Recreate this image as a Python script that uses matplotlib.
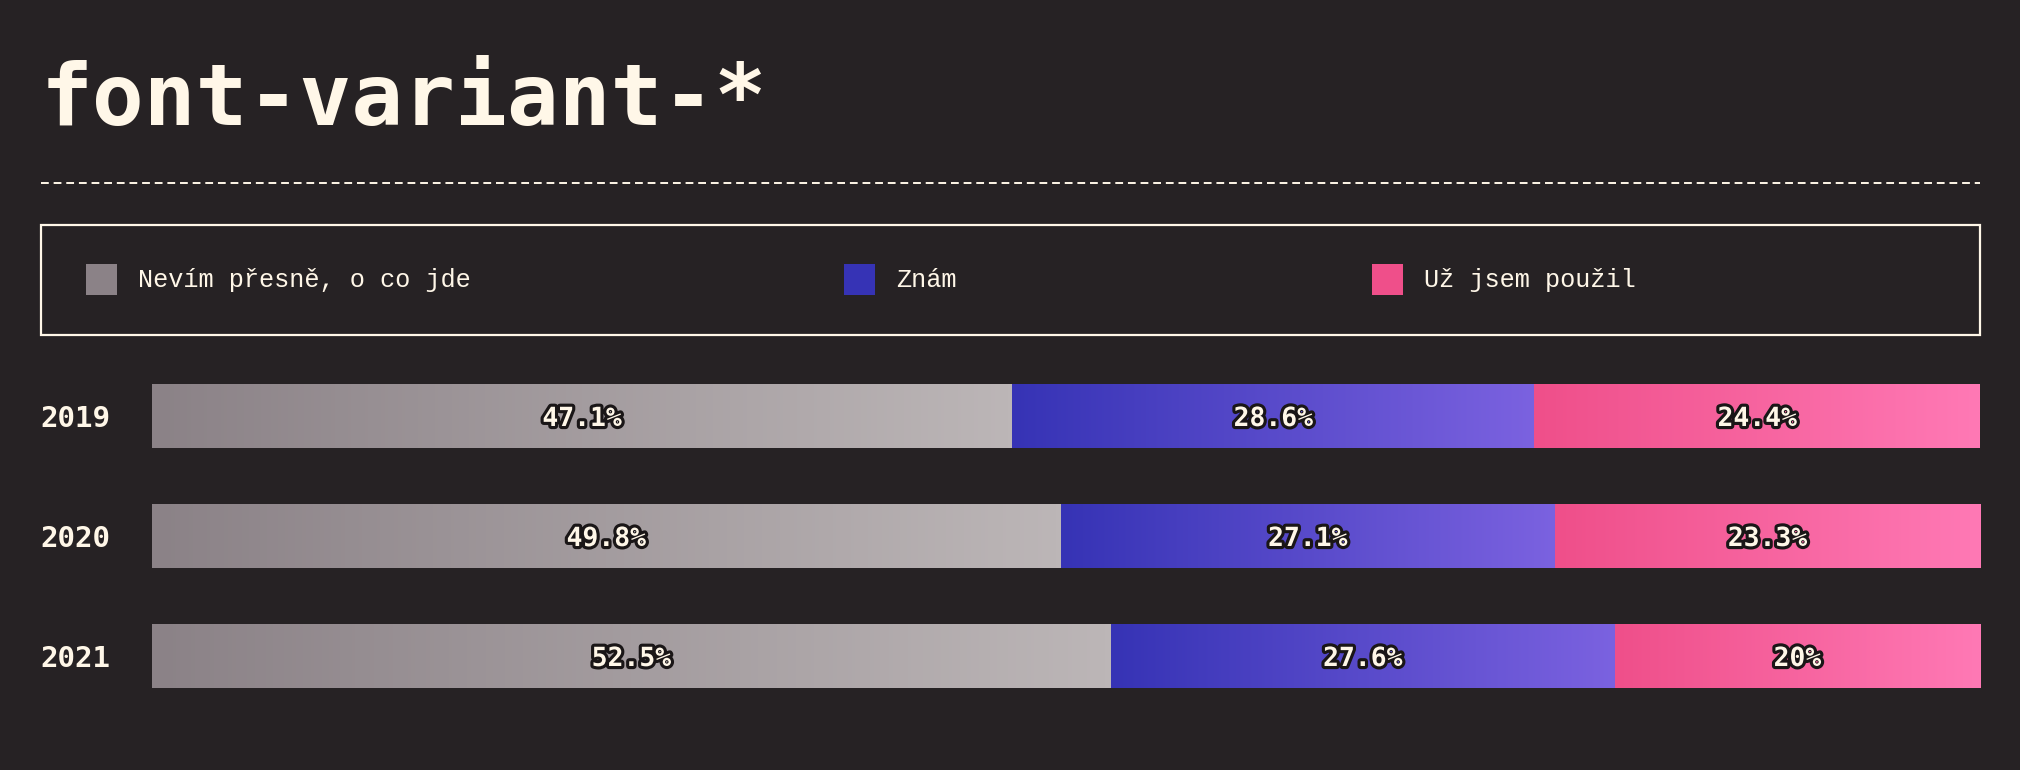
import matplotlib
matplotlib.use("Agg")
import matplotlib.pyplot as plt
import matplotlib.patheffects as pe
from matplotlib.colors import LinearSegmentedColormap
from matplotlib.patches import Rectangle
from matplotlib.lines import Line2D
import numpy as np

# ---- data ----
years = ["2019", "2020", "2021"]
categories = ["Nevím přesně, o co jde", "Znám", "Už jsem použil"]
nevim = [47.1, 49.8, 52.5]
znam = [28.6, 27.1, 27.6]
pouzil = [24.4, 23.3, 20.0]
title = "font-variant-*"

# ---- style ----
BG = "#262224"
CREAM = "#fff7e8"
grad_colors = [("#8b8287", "#bcb6b7"), ("#3633b5", "#7b62e0"), ("#ef4f8a", "#ff79b5")]
MONO = "DejaVu Sans Mono"
LIGHT = "Liberation Mono"

W, H = 2020, 770
fig = plt.figure(figsize=(W / 100, H / 100), dpi=100, facecolor=BG)

def fx(px):
    return px / W

def fy(py):
    return 1 - py / H

# title
fig.text(fx(41), fy(125), title, family=MONO, weight="bold", fontsize=62,
         color=CREAM, ha="left", va="baseline")

# dashed separator
fig.add_artist(Line2D([fx(41), fx(1980)], [fy(183), fy(183)], color=CREAM,
                      lw=1.4, linestyle=(0, (4, 2.5)), transform=fig.transFigure))

# legend box
fig.add_artist(Rectangle((fx(41), fy(335)), fx(1980) - fx(41), fy(225) - fy(335),
                         fill=False, edgecolor=CREAM, lw=1.6, transform=fig.transFigure))
leg_x = [86, 844, 1372]
for i, cat in enumerate(categories):
    fig.add_artist(Rectangle((fx(leg_x[i]), fy(295)), fx(31), 31 / H,
                             facecolor=grad_colors[i][0], edgecolor="none",
                             transform=fig.transFigure))
    fig.text(fx(leg_x[i] + 52), fy(280), cat, family=LIGHT, fontsize=18.2,
             color=CREAM, ha="left", va="center")

# bars
ax = fig.add_axes([fx(152), fy(716), fx(1828), 360 / H])
ax.set_facecolor(BG)
series = [nevim, znam, pouzil]
bar_h = 64 / 120
grad = np.linspace(0, 1, 256).reshape(1, -1)
for r, yr in enumerate(years):
    total = sum(s[r] for s in series)
    left = 0.0
    for i, s in enumerate(series):
        w = s[r] / total * 100
        bar = ax.barh(r, w, left=left, height=bar_h, color=grad_colors[i][0],
                      edgecolor="none")[0]
        cmap = LinearSegmentedColormap.from_list(f"g{i}", grad_colors[i])
        im = ax.imshow(grad, cmap=cmap, aspect="auto",
                       extent=[left, left + w, r + bar_h / 2, r - bar_h / 2],
                       interpolation="bilinear", zorder=2)
        im.set_clip_path(bar)
        v = s[r]
        lab = (f"{v:.1f}" if v != int(v) else f"{int(v)}") + "%"
        ax.text(left + w / 2, r, lab, family=MONO, weight="bold", fontsize=19,
                color=CREAM, ha="center", va="center_baseline", zorder=3,
                path_effects=[pe.withStroke(linewidth=4.5, foreground="#1a1617")])
        left += w
    ax.text((40 - 152) / 1828, r, yr, transform=ax.get_yaxis_transform(),
            family=MONO, weight="bold", fontsize=21, color=CREAM,
            ha="left", va="center_baseline")

ax.set_xlim(0, 100)
ax.set_ylim(2.5, -0.5)
ax.axis("off")

fig.savefig("out.png", dpi=100, facecolor=BG)
